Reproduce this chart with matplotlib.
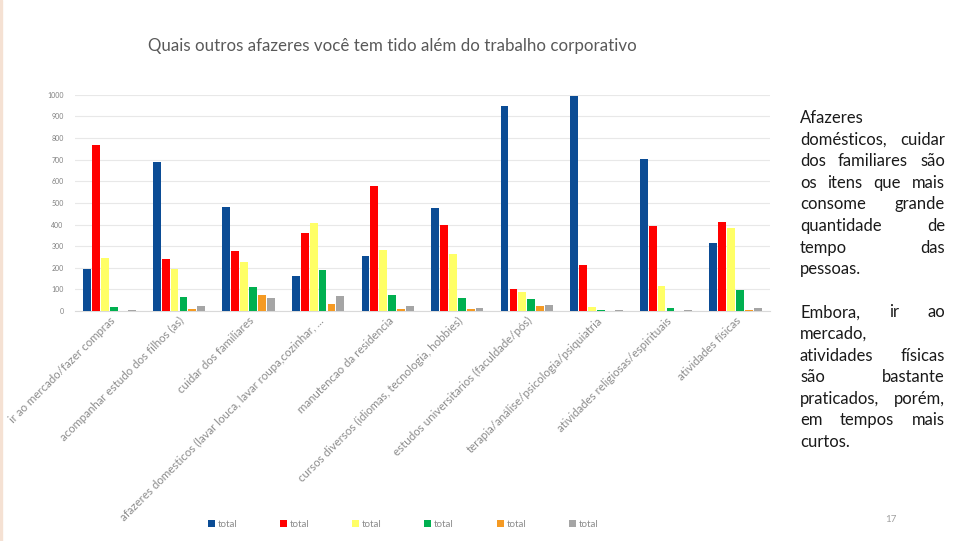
import matplotlib.pyplot as plt
import numpy as np

plt.rcParams['font.family'] = ['Lato', 'DejaVu Sans']

categorias = [
    "ir ao mercado/fazer compras",
    "acompanhar estudo dos filhos (as)",
    "cuidar dos familiares",
    "afazeres domesticos (lavar louca, lavar roupa,cozinhar, ...",
    "manutencao da residencia",
    "cursos diversos (idiomas, tecnologia, hobbies)",
    "estudos universitarios (faculdade/pós)",
    "terapia/análise/psicologia/psiquiatria",
    "atividades religiosas/espirituais",
    "atividades físicas",
]
serie1 = [193, 688, 481, 162, 256, 477, 946, 995, 702, 313]
serie2 = [768, 240, 276, 362, 580, 400, 100, 213, 395, 412]
serie3 = [245, 193, 228, 406, 282, 264, 88, 20, 116, 386]
serie4 = [17, 66, 110, 190, 74, 62, 54, 3, 14, 97]
serie5 = [2, 8, 73, 32, 10, 11, 22, 1, 1, 3]
serie6 = [3, 25, 60, 71, 22, 15, 26, 3, 6, 12]
series = [serie1, serie2, serie3, serie4, serie5, serie6]
nomes = ["total"] * 6
cores = ["#0B4C95", "#FF0000", "#FFFF66", "#00B050", "#F59A23", "#A5A5A5"]

titulo = "Quais outros afazeres você tem tido além do trabalho corporativo"
texto = [
    "Afazeres",
    "domésticos, cuidar",
    "dos familiares são",
    "os itens que mais",
    "consome grande",
    "quantidade de",
    "tempo das",
    "pessoas.",
    "",
    "Embora, ir ao",
    "mercado,",
    "atividades físicas",
    "são bastante",
    "praticados, porém,",
    "em tempos mais",
    "curtos.",
]
# lines that are not justified (end of paragraph / single word)
sem_justificar = {"Afazeres", "pessoas.", "mercado,", "curtos.", ""}

fig = plt.figure(figsize=(9.69, 5.41), dpi=100)
ax = fig.add_axes([0.077, 0.425, 0.718, 0.4])

x = np.arange(len(categorias))
w = 0.128
for i, (vals, cor, nome) in enumerate(zip(series, cores, nomes)):
    ax.bar(x + (i - 2.5) * w, vals, width=w * 0.88, color=cor, label=nome, zorder=3)

ax.set_xlim(-0.5, len(categorias) - 0.5)
ax.set_ylim(0, 1000)
ax.set_yticks(range(0, 1001, 100))
ax.tick_params(axis='y', labelsize=5, colors='#808080', length=0, pad=8)
ax.tick_params(axis='x', length=0, pad=3)
ax.set_xticks(x)
ax.set_xticklabels(categorias, rotation=45, ha='right', rotation_mode='anchor',
                   fontsize=8.3, color='#8C8C8C')
ax.grid(axis='y', color='#E8E8E8', lw=0.8, zorder=0)
for s in ['top', 'right', 'left']:
    ax.spines[s].set_visible(False)
ax.spines['bottom'].set_color('#D9D9D9')

fig.text(0.405, 0.915, titulo, ha='center', va='center', fontsize=12.2, color='#595959')

fig.legend(loc='center', bbox_to_anchor=(0.416, 0.03), ncol=6, frameon=False,
           fontsize=7, labelcolor='#8C8C8C', handlelength=0.7, handleheight=0.7,
           handletextpad=0.3, columnspacing=4.4)

fig.text(0.919, 0.04, "17", ha='center', va='center', fontsize=7, color='#A0A0A0')

# left border
fig.patches.append(plt.Rectangle((0, 0), 0.002, 1, transform=fig.transFigure,
                                 color='#F5E1D3', zorder=0))

# justified text block on the right
fig.canvas.draw()
renderer = fig.canvas.get_renderer()
x0, x1 = 800, 945
y_px = 118
step = 21.6
fs = 12
for linha in texto:
    yy = 1 - y_px / 541
    if linha in sem_justificar:
        if linha:
            fig.text(x0 / 969, yy, linha, fontsize=fs, color='#1A1A1A', va='center', ha='left')
    else:
        palavras = linha.split()
        larg = []
        for p in palavras:
            t = fig.text(0, 0, p, fontsize=fs)
            larg.append(t.get_window_extent(renderer).width)
            t.remove()
        gap = (x1 - x0 - sum(larg)) / (len(palavras) - 1)
        pos = x0
        for p, lw in zip(palavras, larg):
            fig.text(pos / 969, yy, p, fontsize=fs, color='#1A1A1A', va='center', ha='left')
            pos += lw + gap
    y_px += step

fig.savefig("out.png", dpi=100)
